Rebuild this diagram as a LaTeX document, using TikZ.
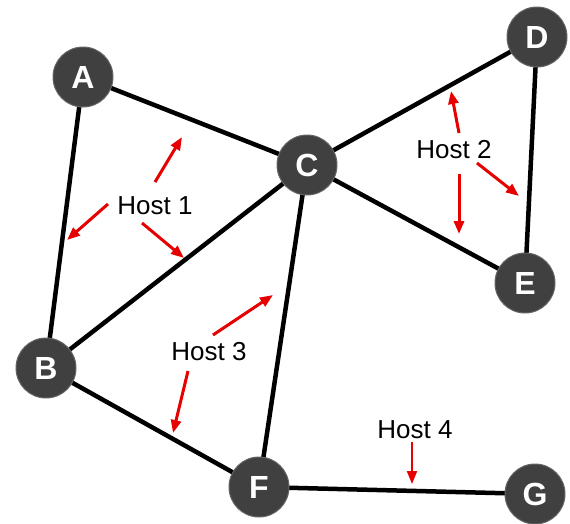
\documentclass[tikz,border=0pt]{standalone}
\usepackage{fontspec}
\setmainfont{Liberation Sans}
\usetikzlibrary{arrows.meta}
\definecolor{nodegray}{RGB}{64,64,64}
\definecolor{arrowred}{RGB}{230,0,0}
\tikzset{
  host/.style={circle, fill=nodegray, draw=nodegray!80!white, line width=1pt, minimum size=60pt, inner sep=0pt, text=white, font=\bfseries\fontsize{32}{32}\selectfont},
  link/.style={line width=4.5pt, black},
  hostlabel/.style={font=\fontsize{26}{26}\selectfont, inner sep=0pt, text=black},
  flow/.style={arrowred, line width=3pt, -{Triangle[length=13pt,width=10pt]}}
}
\begin{document}
\begin{tikzpicture}[x=1pt,y=-1pt]
\useasboundingbox (0,0) rectangle (570,523);
% node positions
\coordinate (pA) at (83,77);
\coordinate (pB) at (46,368);
\coordinate (pC) at (307,165);
\coordinate (pD) at (537,37);
\coordinate (pE) at (525,283);
\coordinate (pF) at (259,487);
\coordinate (pG) at (535,494);
% links
\draw[link] (pA) -- (pC);
\draw[link] (pA) -- (pB);
\draw[link] (pC) -- (pD);
\draw[link] (pD) -- (pE);
\draw[link] (pC) -- (pE);
\draw[link] (pC) -- (pB);
\draw[link] (pC) -- (pF);
\draw[link] (pB) -- (pF);
\draw[link] (pF) -- (pG);
% hosts
\node[host] (A) at (pA) {A};
\node[host] (B) at (pB) {B};
\node[host] (C) at (pC) {C};
\node[host] (D) at (pD) {D};
\node[host] (E) at (pE) {E};
\node[host] (F) at (pF) {F};
\node[host] (G) at (pG) {G};
% labels
\node[hostlabel] (h1) at (155,206) {Host 1};
\node[hostlabel] (h2) at (454,150) {Host 2};
\node[hostlabel] (h3) at (209,352) {Host 3};
\node[hostlabel] (h4) at (415,430) {Host 4};
% arrow endpoints
\coordinate (a1s) at (155,182); \coordinate (a1e) at (182,137);
\coordinate (b1s) at (108,204); \coordinate (b1e) at (67,240);
\coordinate (c1s) at (142,223); \coordinate (c1e) at (184,258);
\coordinate (a2s) at (459,133); \coordinate (a2e) at (451,91);
\coordinate (b2s) at (459,174); \coordinate (b2e) at (459,234);
\coordinate (c2s) at (477,163); \coordinate (c2e) at (519,196);
\coordinate (a3s) at (213,335); \coordinate (a3e) at (273,295);
\coordinate (b3s) at (188,371); \coordinate (b3e) at (173,433);
\coordinate (a4s) at (412,442); \coordinate (a4e) at (412,484);
\draw[flow] (a1s) -- (a1e);
\draw[flow] (b1s) -- (b1e);
\draw[flow] (c1s) -- (c1e);
\draw[flow] (a2s) -- (a2e);
\draw[flow] (b2s) -- (b2e);
\draw[flow] (c2s) -- (c2e);
\draw[flow] (a3s) -- (a3e);
\draw[flow] (b3s) -- (b3e);
\draw[flow, line width=2pt] (a4s) -- (a4e);
\end{tikzpicture}
\end{document}
